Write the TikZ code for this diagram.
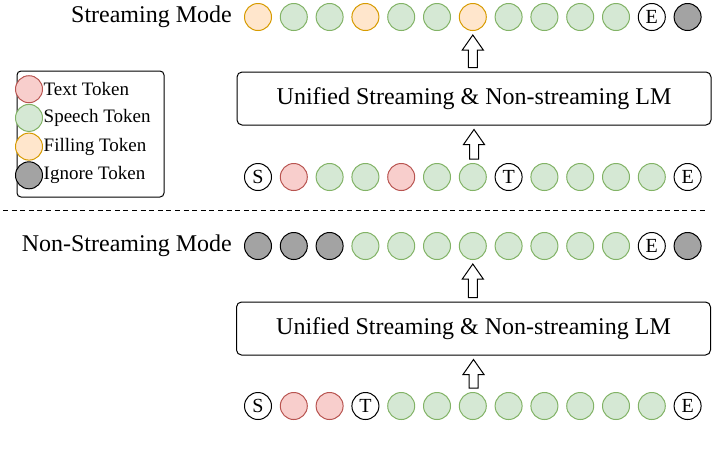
\documentclass[tikz,border=0pt]{standalone}
\usepackage{fontspec}
\setmainfont{Liberation Serif}
\usepackage{tikz}
\usetikzlibrary{calc}
\usetikzlibrary{positioning}

\definecolor{txtfill}{HTML}{F8CECC}
\definecolor{txtline}{HTML}{B85450}
\definecolor{spfill}{HTML}{D5E8D4}
\definecolor{spline}{HTML}{82B366}
\definecolor{flfill}{HTML}{FFE6CC}
\definecolor{flline}{HTML}{D79B00}
\definecolor{igfill}{HTML}{A3A3A3}

% hollow block arrow from a lower node anchor up to an upper one
\newcommand{\blockarrow}[2]{%
  \draw[blockarr] let \p1=(#1), \p2=(#2) in
    (\x2-4.5pt,\y1+4pt) -- (\x2-4.5pt,\y2-19pt) -- (\x2-10.5pt,\y2-19pt)
    -- (\x2,\y2-4pt) -- (\x2+10.5pt,\y2-19pt) -- (\x2+4.5pt,\y2-19pt)
    -- (\x2+4.5pt,\y1+4pt) -- cycle;}

\begin{document}
\begin{tikzpicture}[x=1pt,y=-1pt]
\tikzset{tok/.style = {shape=circle,minimum size=27pt,inner sep=0pt,line width=1pt,
  font=\fontsize{20}{20}\selectfont}}
\tikzset{texttok/.style = {tok,draw=txtline,fill=txtfill}}
\tikzset{speechtok/.style = {tok,draw=spline,fill=spfill}}
\tikzset{filltok/.style = {tok,draw=flline,fill=flfill}}
\tikzset{ignoretok/.style = {tok,draw=black,fill=igfill}}
\tikzset{spectok/.style = {tok,draw=black,fill=white}}
\tikzset{lmbox/.style = {draw,rounded corners=5pt,line width=1pt,minimum width=474pt,
  minimum height=53pt,font=\fontsize{24}{24}\selectfont}}
\tikzset{modelabel/.style = {inner sep=0pt,font=\fontsize{24}{24}\selectfont}}
\tikzset{blockarr/.style = {draw,fill=white,line width=1pt,line join=miter}}
\tikzset{legtok/.style = {tok,minimum size=20pt}}
\useasboundingbox (0,0) rectangle (714,459);

% streaming mode
\foreach \tp/\lb [count=\i] in {filltok/{},speechtok/{},speechtok/{},filltok/{},speechtok/{},
  speechtok/{},filltok/{},speechtok/{},speechtok/{},speechtok/{},speechtok/{},spectok/E,ignoretok/{}}
  \node[\tp](so\i) at ({222.2+35.8*\i}, 17) {\lb};
\foreach \tp/\lb [count=\i] in {spectok/S,texttok/{},speechtok/{},speechtok/{},texttok/{},
  speechtok/{},speechtok/{},spectok/T,speechtok/{},speechtok/{},speechtok/{},speechtok/{},spectok/E}
  \node[\tp](si\i) at ({222.2+35.8*\i}, 177) {\lb};
\node[modelabel,left=12pt of so1](smode) {Streaming Mode};
\node[lmbox](lm1) at (474, 98.5) {Unified Streaming \& Non-streaming LM};
\blockarrow{lm1.north}{so7.south}
\blockarrow{si7.north}{lm1.south}

% divider
\draw[dash pattern=on 5pt off 3.6pt,line width=1pt] (3,210) -- (706,210);

% non-streaming mode
\foreach \tp/\lb [count=\i] in {ignoretok/{},ignoretok/{},ignoretok/{},speechtok/{},speechtok/{},
  speechtok/{},speechtok/{},speechtok/{},speechtok/{},speechtok/{},speechtok/{},spectok/E,ignoretok/{}}
  \node[\tp](no\i) at ({222.2+35.8*\i}, 246) {\lb};
\foreach \tp/\lb [count=\i] in {spectok/S,texttok/{},texttok/{},spectok/T,speechtok/{},speechtok/{},
  speechtok/{},speechtok/{},speechtok/{},speechtok/{},speechtok/{},speechtok/{},spectok/E}
  \node[\tp](ni\i) at ({222.2+35.8*\i}, 406) {\lb};
\node[modelabel,left=12pt of no1](nmode) {Non-Streaming Mode};
\node[lmbox](lm2) at (473.5, 328.5) {Unified Streaming \& Non-streaming LM};
\blockarrow{lm2.north}{no7.south}
\blockarrow{ni7.north}{lm2.south}

% legend
\node[draw,rounded corners=4pt,line width=1pt,minimum width=147pt,minimum height=126pt](legend) at (90.5,134) {};
\foreach \tp/\nm [count=\i] in {texttok/Text Token,speechtok/Speech Token,filltok/Filling Token,ignoretok/Ignore Token}
  {\node[legtok,\tp](lg\i) at (29, {60.5+28.7*\i}) {};
   \node[anchor=west,inner sep=0pt,font=\fontsize{19}{19}\selectfont](lgt\i) at (43.5, {60.5+28.7*\i}) {\nm};}
\end{tikzpicture}
\end{document}
